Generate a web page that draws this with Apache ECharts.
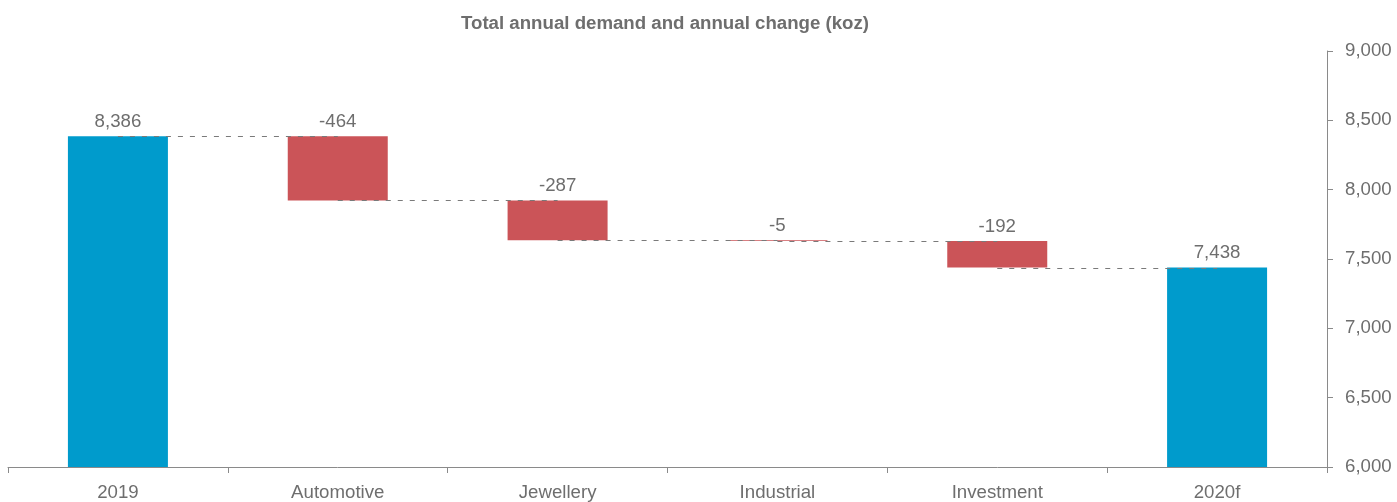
<!DOCTYPE html>
<html>
<head>
<meta charset="utf-8">
<script src="https://cdn.jsdelivr.net/npm/echarts@6/dist/echarts.min.js"></script>
<style>
html,body{margin:0;padding:0;background:#fff;}
#chart{width:1397px;height:502px;}
</style>
</head>
<body>
<div id="chart"></div>
<script>
var titleText = 'Total annual demand and annual change (koz)';
var categories = ['2019', 'Automotive', 'Jewellery', 'Industrial', 'Investment', '2020f'];
var values = [8386, -464, -287, -5, -192, 7438];
var isTotal = [true, false, false, false, false, true];
var yTicks = [6000, 6500, 7000, 7500, 8000, 8500, 9000];

var BLUE = '#009BCC';
var RED = '#CB5458';
var FONT = 'Liberation Sans, Arial, sans-serif';
var FS = 18.67;

// compute waterfall geometry from values
var base = [], height = [], levels = [];
var running = 0;
for (var i = 0; i < values.length; i++) {
  if (isTotal[i]) {
    base.push(0);
    height.push({value: values[i], itemStyle: {color: BLUE}});
    running = values[i];
  } else {
    var next = running + values[i];
    base.push(Math.min(running, next));
    height.push({value: Math.abs(values[i]), itemStyle: {color: values[i] < 0 ? RED : BLUE}});
    running = next;
  }
  levels.push(running);
}
var connectors = [];
for (var j = 0; j < values.length - 1; j++) connectors.push([j, levels[j]]);

function fmt(v) { return v.toLocaleString('en-US'); }

var chart = echarts.init(document.getElementById('chart'), null, {renderer: 'canvas'});
chart.setOption({
  animation: false,
  backgroundColor: '#fff',
  title: {
    text: titleText,
    left: 660, top: 9, textAlign: 'center',
    textStyle: {fontFamily: FONT, fontSize: FS, fontWeight: 'bold', color: '#6E6E6E'}
  },
  grid: {left: 8, right: 70, top: 51, bottom: 31},
  xAxis: {
    type: 'category',
    data: categories,
    axisLine: {lineStyle: {color: '#8A8A8A', width: 1}},
    axisTick: {show: true, alignWithLabel: false, length: 6, lineStyle: {color: '#8A8A8A'}},
    axisLabel: {color: '#6E6E6E', fontFamily: FONT, fontSize: FS, margin: 16}
  },
  yAxis: {
    type: 'value',
    position: 'right',
    min: yTicks[0], max: yTicks[yTicks.length - 1], interval: 500,
    splitLine: {show: false},
    axisLine: {show: true, lineStyle: {color: '#8A8A8A', width: 1}},
    axisTick: {show: true, length: 6, lineStyle: {color: '#8A8A8A'}},
    axisLabel: {color: '#6E6E6E', fontFamily: FONT, fontSize: FS, margin: 18,
      formatter: function (v) { return fmt(v); }}
  },
  series: [
    {
      type: 'bar', stack: 'w', barWidth: 100, clip: true,
      itemStyle: {color: 'transparent'},
      emphasis: {disabled: true},
      data: base
    },
    {
      type: 'bar', stack: 'w', barWidth: 100, clip: true,
      data: height,
      label: {
        show: true, position: 'top', distance: 5,
        fontFamily: FONT, fontSize: FS, color: '#6E6E6E',
        formatter: function (p) { return fmt(values[p.dataIndex]); }
      }
    },
    {
      type: 'custom',
      data: connectors,
      z: 5,
      renderItem: function (params, api) {
        var a = api.coord([api.value(0), api.value(1)]);
        var b = api.coord([api.value(0) + 1, api.value(1)]);
        return {
          type: 'line',
          shape: {x1: a[0], y1: Math.round(a[1]) + 0.5, x2: b[0], y2: Math.round(b[1]) + 0.5},
          style: {stroke: '#7A7A7A', lineWidth: 1.2, lineDash: [5, 7]}
        };
      }
    }
  ]
});
</script>
</body>
</html>
